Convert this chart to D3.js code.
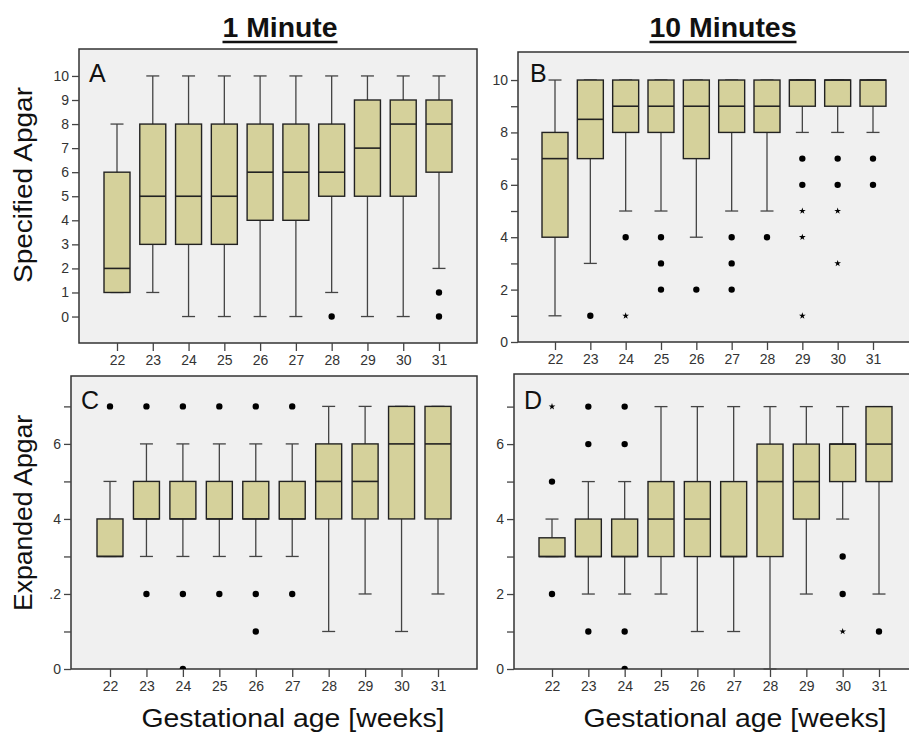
<!DOCTYPE html>
<html>
<head>
<meta charset="utf-8">
<script src="https://cdn.jsdelivr.net/npm/d3@7"></script>
<style>
body { margin: 0; background: #fff; }
text { font-family: Arial, "Liberation Sans", sans-serif; }
</style>
</head>
<body>
<svg id="chart" width="909" height="734"></svg>
<script>
// ---------------------------------------------------------------
// data : one row per week = [low whisker, q1, median, q3, high whisker]
// ---------------------------------------------------------------
var weeks = ["22", "23", "24", "25", "26", "27", "28", "29", "30", "31"]

var spec1 = [
  [1, 1, 2, 6, 8], [1, 3, 5, 8, 10], [0, 3, 5, 8, 10], [0, 3, 5, 8, 10], [0, 4, 6, 8, 10],
  [0, 4, 6, 8, 10], [1, 5, 6, 8, 10], [0, 5, 7, 9, 10], [0, 5, 8, 9, 10], [2, 6, 8, 9, 10]
]
var spec10 = [
  [1, 4, 7, 8, 10], [3, 7, 8.5, 10, 10], [5, 8, 9, 10, 10], [5, 8, 9, 10, 10], [4, 7, 9, 10, 10],
  [5, 8, 9, 10, 10], [5, 8, 9, 10, 10], [8, 9, 10, 10, 10], [8, 9, 10, 10, 10], [8, 9, 10, 10, 10]
]
var exp1 = [
  [3, 3, 3, 4, 5], [3, 4, 4, 5, 6], [3, 4, 4, 5, 6], [3, 4, 4, 5, 6], [3, 4, 4, 5, 6],
  [3, 4, 4, 5, 6], [1, 4, 5, 6, 7], [2, 4, 5, 6, 7], [1, 4, 6, 7, 7], [2, 4, 6, 7, 7]
]
var exp10 = [
  [3, 3, 3, 3.5, 4], [2, 3, 3, 4, 5], [2, 3, 3, 4, 5], [2, 3, 4, 5, 7], [1, 3, 4, 5, 7],
  [1, 3, 3, 5, 7], [0, 3, 5, 6, 7], [2, 4, 5, 6, 7], [4, 5, 6, 6, 7], [2, 5, 6, 7, 7]
]

// outliers : [week, value, "o" = outlier, "*" = extreme]
var spec1Out = [["28", 0, "o"], ["31", 1, "o"], ["31", 0, "o"]]
var spec10Out = [
  ["23", 1, "o"], ["24", 4, "o"], ["24", 1, "*"], ["25", 4, "o"], ["25", 3, "o"], ["25", 2, "o"],
  ["26", 2, "o"], ["27", 4, "o"], ["27", 3, "o"], ["27", 2, "o"], ["28", 4, "o"],
  ["29", 7, "o"], ["29", 6, "o"], ["29", 5, "*"], ["29", 4, "*"], ["29", 1, "*"],
  ["30", 7, "o"], ["30", 6, "o"], ["30", 5, "*"], ["30", 3, "*"], ["31", 7, "o"], ["31", 6, "o"]
]
var exp1Out = [
  ["22", 7, "o"], ["23", 7, "o"], ["23", 2, "o"], ["24", 7, "o"], ["24", 2, "o"], ["24", 0, "o"],
  ["25", 7, "o"], ["25", 2, "o"], ["26", 7, "o"], ["26", 2, "o"], ["26", 1, "o"], ["27", 7, "o"], ["27", 2, "o"]
]
var exp10Out = [
  ["22", 7, "*"], ["22", 5, "o"], ["22", 2, "o"], ["23", 7, "o"], ["23", 6, "o"], ["23", 1, "o"],
  ["24", 7, "o"], ["24", 6, "o"], ["24", 1, "o"], ["24", 0, "o"],
  ["30", 3, "o"], ["30", 2, "o"], ["30", 1, "*"], ["31", 1, "o"]
]

// tick labels
var spec1Ticks = [0, 1, 2, 3, 4, 5, 6, 7, 8, 9, 10]
var spec1Labels = ["0", "1", "2", "3", "4", "5", "6", "7", "8", "9", "10"]
var spec10Ticks = [0, 1, 2, 3, 4, 5, 6, 7, 8, 9, 10]
var spec10Labels = ["0", "", "2", "", "4", "", "6", "", "8", "", "10"]
var expTicks = [0, 1, 2, 3, 4, 5, 6, 7]
var exp1Labels = ["0", "", ".2", "", "4", "", "6", ""]
var exp10Labels = ["0", "", "2", "", "4", "", "6", ""]

// ---------------------------------------------------------------
var svg = d3.select("#chart")
  , boxFill = "#d5d19b"
  , ink = "#222"
  , np = 0

function panel(p) {
  var g = svg.append("g")
  var x = d3.scalePoint().domain(weeks).range(p.xr)
  var y = d3.scaleLinear().domain(p.dom).range([p.y1, p.y0])
  var bw = 26
  var cid = "clip" + (np++)

  svg.append("clipPath").attr("id", cid).append("rect")
    .attr("x", p.x0).attr("y", p.y0).attr("width", p.x1 - p.x0).attr("height", p.y1 - p.y0)

  g.append("rect")
    .attr("x", p.x0).attr("y", p.y0)
    .attr("width", p.x1 - p.x0).attr("height", p.y1 - p.y0)
    .attr("fill", "#f0f0f0").attr("stroke", "#333").attr("stroke-width", 1.5)

  var ya = g.append("g").attr("transform", "translate(" + p.x0 + ",0)")
    .call(d3.axisLeft(y).tickValues(p.ticks).tickFormat(function (d, i) { return p.labels[i] })
      .tickSize(7).tickPadding(3))
  var xa = g.append("g").attr("transform", "translate(0," + p.y1 + ")")
    .call(d3.axisBottom(x).tickSize(8).tickPadding(4))
  ;[ya, xa].forEach(function (a) {
    a.select(".domain").remove()
    a.selectAll("line").attr("stroke", "#444").attr("stroke-width", 1.3)
    a.selectAll("text").attr("fill", "#333").style("font-size", "14px")
  })

  var b = g.selectAll(".bx").data(p.boxes).enter().append("g")
    .attr("transform", function (d, i) { return "translate(" + x(weeks[i]) + ",0)" })

  // whiskers
  b.append("line").attr("x1", 0).attr("x2", 0)
    .attr("y1", function (d) { return y(d[0]) }).attr("y2", function (d) { return y(d[4]) })
    .attr("stroke", "#444").attr("stroke-width", 1.3)
  b.selectAll(".cap").data(function (d) { return [d[0], d[4]] }).enter().append("line")
    .attr("x1", -bw / 4).attr("x2", bw / 4)
    .attr("y1", function (v) { return y(v) }).attr("y2", function (v) { return y(v) })
    .attr("stroke", "#444").attr("stroke-width", 1.3)
  // box
  b.append("rect").attr("x", -bw / 2).attr("width", bw)
    .attr("y", function (d) { return y(d[3]) })
    .attr("height", function (d) { return y(d[1]) - y(d[3]) })
    .attr("fill", boxFill).attr("stroke", ink).attr("stroke-width", 1.4)
  b.append("line").attr("x1", -bw / 2).attr("x2", bw / 2)
    .attr("y1", function (d) { return y(d[2]) }).attr("y2", function (d) { return y(d[2]) })
    .attr("stroke", ink).attr("stroke-width", 1.6)

  // outliers
  g.append("g").attr("clip-path", "url(#" + cid + ")")
    .selectAll(".out").data(p.outs).enter().append("path")
    .attr("transform", function (d) { return "translate(" + x(d[0]) + "," + y(d[1]) + ")" })
    .attr("d", function (d) {
      return d[2] == "o" ? d3.symbol(d3.symbolCircle, 32)() : d3.symbol(d3.symbolStar, 14)()
    })
    .attr("fill", "#000")

  g.append("text").attr("x", p.lx).attr("y", p.ly).text(p.letter)
    .style("font-size", "25px").attr("fill", "#111")
}

panel({ x0: 79, x1: 477, y0: 49, y1: 343, xr: [117, 439], dom: [-1.1, 11.12],
  boxes: spec1, outs: spec1Out, ticks: spec1Ticks, labels: spec1Labels, letter: "A", lx: 89, ly: 82 })
panel({ x0: 518, x1: 925, y0: 52, y1: 342, xr: [555, 873], dom: [0, 11.07],
  boxes: spec10, outs: spec10Out, ticks: spec10Ticks, labels: spec10Labels, letter: "B", lx: 530, ly: 82 })
panel({ x0: 71, x1: 477, y0: 376, y1: 669, xr: [110, 438], dom: [0, 7.81],
  boxes: exp1, outs: exp1Out, ticks: expTicks, labels: exp1Labels, letter: "C", lx: 81, ly: 409 })
panel({ x0: 514, x1: 925, y0: 374, y1: 669, xr: [552, 879], dom: [0, 7.87],
  boxes: exp10, outs: exp10Out, ticks: expTicks, labels: exp10Labels, letter: "D", lx: 524, ly: 409 })

// ---------------------------------------------------------------
// titles
// ---------------------------------------------------------------
;[["1 Minute", 280, 115], ["10 Minutes", 723, 147]].forEach(function (t) {
  svg.append("text").attr("x", t[1]).attr("y", 37).attr("text-anchor", "middle")
    .attr("textLength", t[2]).attr("lengthAdjust", "spacingAndGlyphs")
    .style("font-size", "28px").style("font-weight", "bold").attr("fill", "#111").text(t[0])
  svg.append("line").attr("x1", t[1] - t[2] / 2).attr("x2", t[1] + t[2] / 2)
    .attr("y1", 42).attr("y2", 42).attr("stroke", "#111").attr("stroke-width", 2.5)
})

;[["Specified Apgar", 185, 196], ["Expanded Apgar", 513, 196]].forEach(function (t) {
  svg.append("text").attr("transform", "translate(32," + t[1] + ") rotate(-90)")
    .attr("text-anchor", "middle").attr("textLength", t[2]).attr("lengthAdjust", "spacingAndGlyphs")
    .style("font-size", "26px").attr("fill", "#111").text(t[0])
})

;[293, 735].forEach(function (cx) {
  svg.append("text").attr("x", cx).attr("y", 727).attr("text-anchor", "middle")
    .attr("textLength", 303).attr("lengthAdjust", "spacingAndGlyphs")
    .style("font-size", "26px").attr("fill", "#111").text("Gestational age [weeks]")
})
</script>
</body>
</html>
